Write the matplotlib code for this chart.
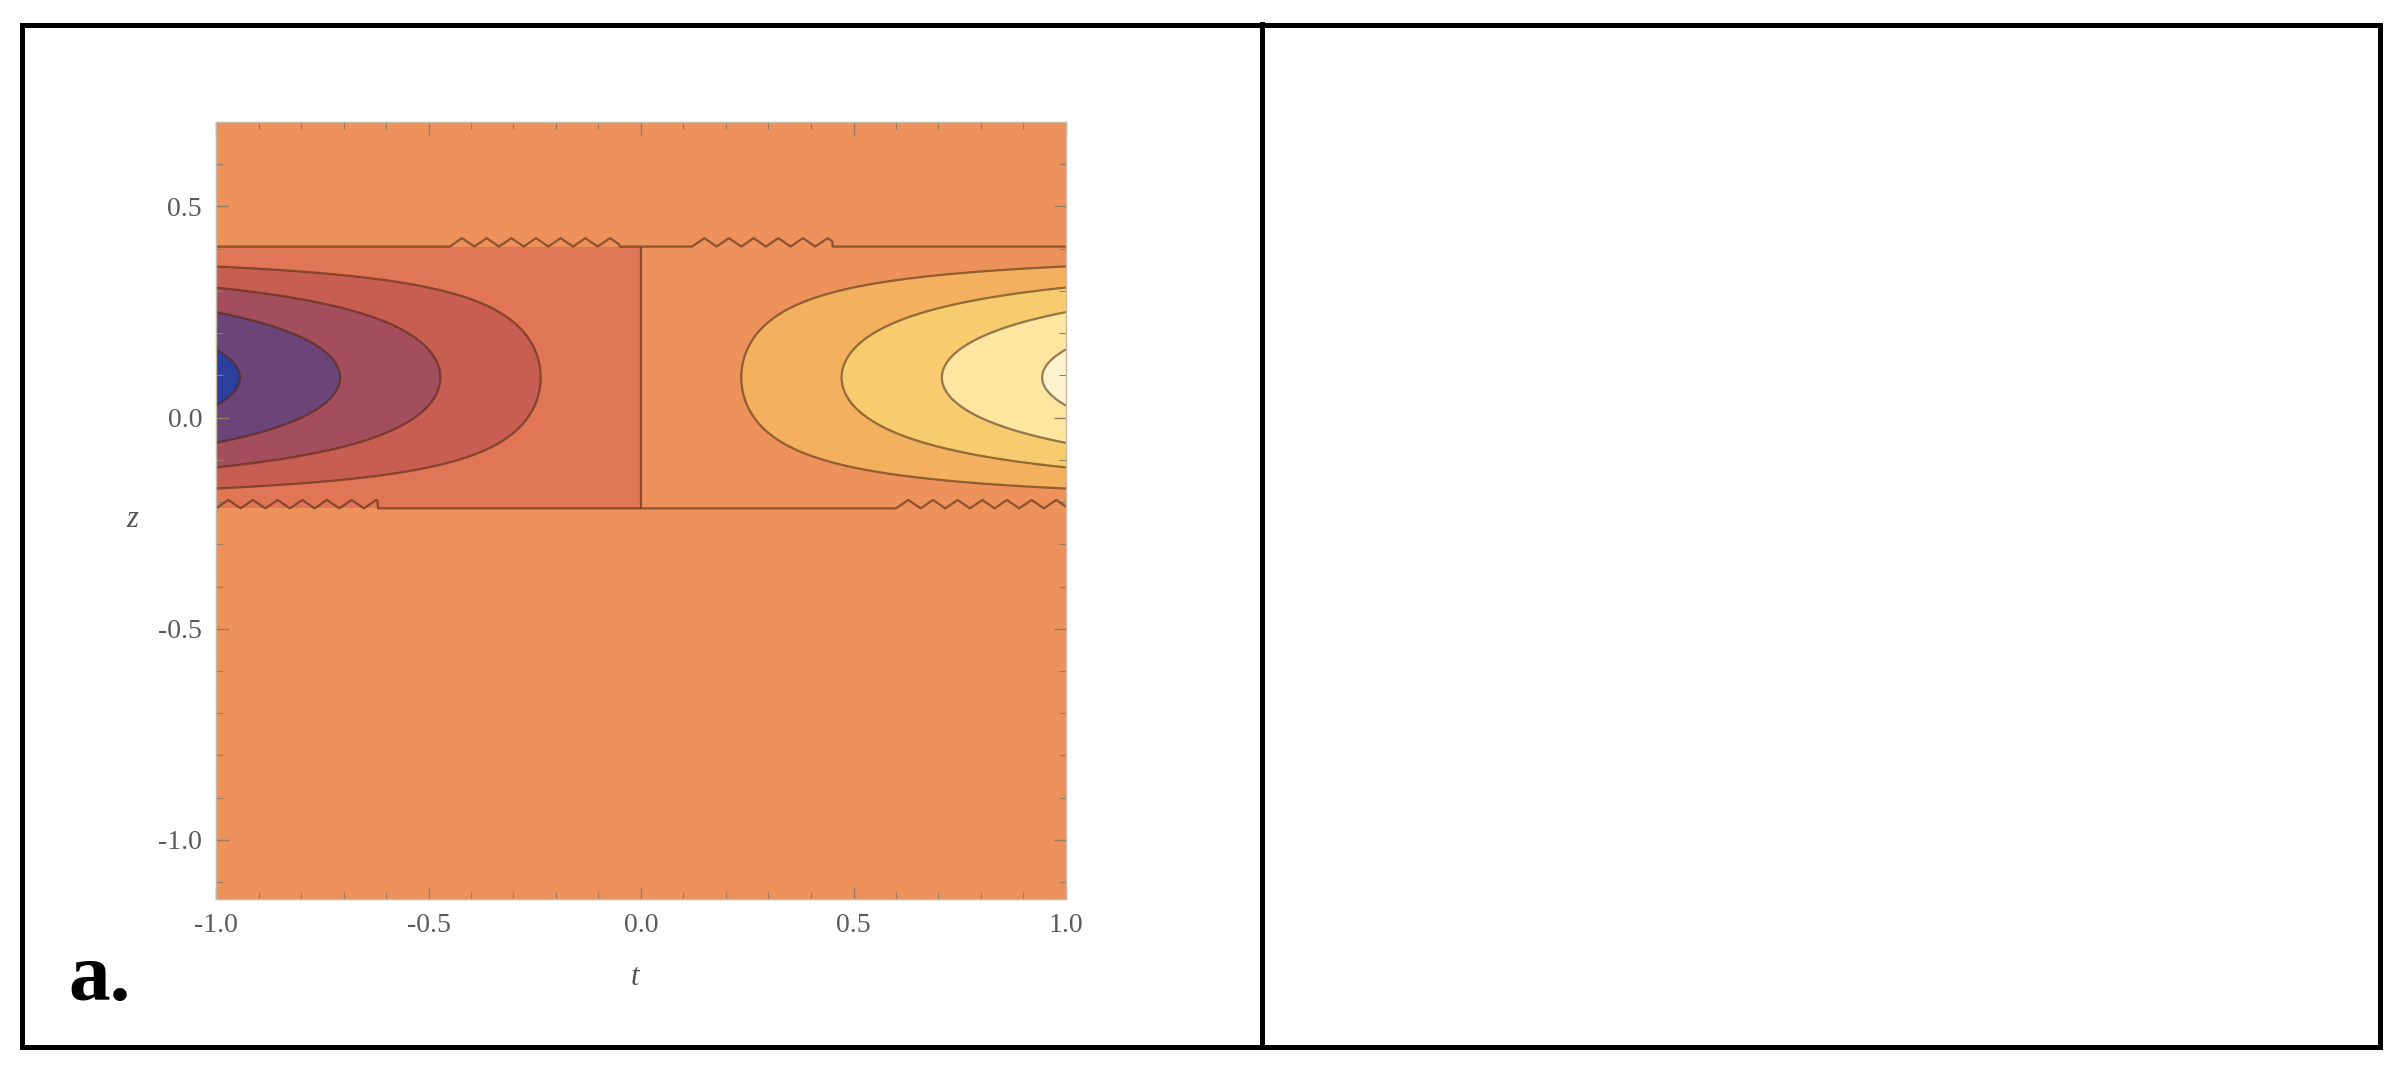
import numpy as np
import matplotlib
matplotlib.use("Agg")
import matplotlib.pyplot as plt
from matplotlib.patches import Rectangle
from matplotlib.lines import Line2D

# ---------------------------------------------------------------------------
# data
# ---------------------------------------------------------------------------
t_range = [-1.0, 1.0]
z_range = [-1.14, 0.70]
band_center = 0.095      # z of the peak of the profile
band_halfwidth = 0.31    # profile is zero outside this half width

levels = [-1.1, -0.944, -0.708, -0.472, -0.236, -1e-9, 0.236, 0.472, 0.708, 0.944, 1.1]
fill_colors = ['#2c3f9c', '#6b4578', '#a34e5c', '#c85e52', '#e07656',
               '#ee925b', '#f3b05e', '#f7cc6e', '#fce6a0', '#fdf4cd']

# numerical noise wiggles on the zero contour along the band edges
top_wiggle_spans = [(-0.45, -0.05), (0.12, 0.45)]
bottom_wiggle_spans = [(-1.0, -0.62), (0.60, 1.0)]
wiggle_amp = 0.02
wiggle_period = 0.058

x_ticks = [-1.0, -0.5, 0.0, 0.5, 1.0]
x_ticklabels = ['-1.0', '-0.5', '0.0', '0.5', '1.0']
y_ticks = [-1.0, -0.5, 0.0, 0.5]
y_ticklabels = ['-1.0', '-0.5', '0.0', '0.5']

# ---------------------------------------------------------------------------
# field
# ---------------------------------------------------------------------------
t = np.linspace(t_range[0], t_range[1], 801)
z = np.linspace(z_range[0], z_range[1], 801)
T, Z = np.meshgrid(t, z)
u = (Z - band_center) / band_halfwidth
inside = np.abs(u) < 1
profile = np.where(inside, np.cos(np.pi / 2 * u), 0.0)
F = T * profile

band_top = band_center + band_halfwidth
band_bottom = band_center - band_halfwidth


def edge_curve(z0, spans, sign):
    tt = np.linspace(t_range[0], t_range[1], 2001)
    zz = np.full_like(tt, z0)
    for a, b in spans:
        m = (tt >= a) & (tt <= b)
        phase = ((tt[m] - a) / wiggle_period) % 1.0
        tri = 1 - np.abs(2 * phase - 1)
        zz[m] = z0 + sign * wiggle_amp * tri
    return tt, zz


# ---------------------------------------------------------------------------
# figure
# ---------------------------------------------------------------------------
W, H = 2401, 1078
fig = plt.figure(figsize=(W / 100, H / 100), dpi=100)
ax = fig.add_axes([216 / W, 1 - 899 / H, 850 / W, 777 / H])

ax.contourf(T, Z, F, levels=levels, colors=fill_colors)
line_rgba = (0.25, 0.12, 0.05, 0.55)
nonzero_levels = [lv for lv in levels[1:-1] if abs(lv) > 1e-6]
ax.contour(T, Z, F, levels=nonzero_levels, colors=[line_rgba],
           linewidths=1.6, linestyles='solid')
# zero contour: vertical split at t = 0 inside the band, plus band edges
ax.contour(T, Z, np.ma.masked_where(~inside, T), levels=[0.0], colors=[line_rgba],
           linewidths=1.6, linestyles='solid')
for z0, spans, sign in [(band_top, top_wiggle_spans, 1), (band_bottom, bottom_wiggle_spans, 1)]:
    tt, zz = edge_curve(z0, spans, sign)
    ax.plot(tt, zz, color=line_rgba, linewidth=1.6)

ax.set_xlim(t_range)
ax.set_ylim(z_range)

serif = ['Liberation Serif', 'DejaVu Serif']
ax.set_xticks(x_ticks)
ax.set_xticklabels(x_ticklabels, family=serif, fontsize=20, color='#5a5a5a')
ax.set_yticks(y_ticks)
ax.set_yticklabels(y_ticklabels, family=serif, fontsize=20, color='#5a5a5a')
ax.set_xticks(np.arange(-1.0, 1.01, 0.1), minor=True)
ax.set_yticks(np.arange(-1.1, 0.71, 0.1), minor=True)
ax.tick_params(which='both', direction='in', top=True, right=True, color='#9a7a60')
ax.tick_params(which='major', length=9, width=1, pad=10)
ax.tick_params(which='minor', length=5, width=0.8)
for sp in ax.spines.values():
    sp.set_color('#c8b8a8')
    sp.set_linewidth(1)

ax.set_xlabel('t', family=serif, style='italic', fontsize=22, color='#555555')
ax.xaxis.set_label_coords(0.493, -0.083)
ax.set_ylabel('z', family=serif, style='italic', fontsize=22, color='#555555', rotation=0)
ax.yaxis.set_label_coords(-0.099, 0.47)

fig.text(68 / W, 1 - 1000 / H, 'a.', family=serif, fontweight='bold', fontsize=60,
         color='black', ha='left', va='baseline')

# outer table frame with the divider
fig.patches.append(Rectangle((22 / W, 1 - 1047 / H), 2358 / W, 1022 / H,
                             transform=fig.transFigure, fill=False,
                             edgecolor='black', linewidth=3.6))
fig.lines.append(Line2D([1262 / W, 1262 / W], [1 - 1047 / H, 1 - 24 / H],
                        transform=fig.transFigure, color='black', linewidth=3.6))

fig.savefig('out.png', dpi=100)
